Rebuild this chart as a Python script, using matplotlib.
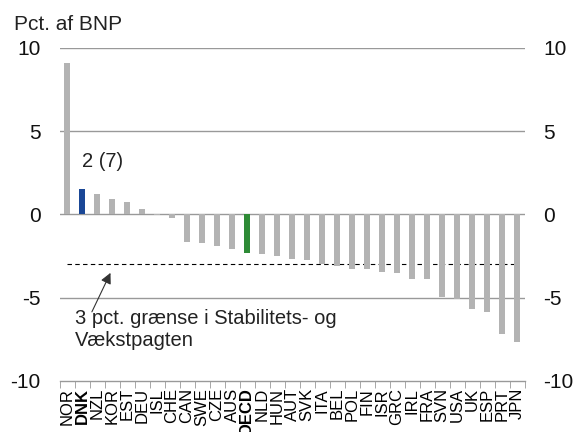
import matplotlib
matplotlib.use("Agg")
import matplotlib.pyplot as plt
import numpy as np

plt.rcParams['font.family'] = ['Liberation Sans', 'DejaVu Sans']

countries = ["NOR", "DNK", "NZL", "KOR", "EST", "DEU", "ISL", "CHE", "CAN", "SWE",
             "CZE", "AUS", "OECD", "NLD", "HUN", "AUT", "SVK", "ITA", "BEL", "POL",
             "FIN", "ISR", "GRC", "IRL", "FRA", "SVN", "USA", "UK", "ESP", "PRT", "JPN"]
values = [9.1, 1.5, 1.25, 0.9, 0.75, 0.35, -0.05, -0.2, -1.65, -1.7,
          -1.9, -2.1, -2.3, -2.35, -2.5, -2.65, -2.75, -3.0, -3.1, -3.25,
          -3.3, -3.45, -3.5, -3.85, -3.9, -4.95, -5.1, -5.65, -5.85, -7.15, -7.65]
highlight = {"DNK": "#1a4796", "OECD": "#2e8b36"}
bold_labels = ["DNK", "OECD"]
yticks = [-10, -5, 0, 5, 10]
limit = -3
dnk_label = "2 (7)"
annot_text = "3 pct. grænse i Stabilitets- og\nVækstpagten"

fig = plt.figure(figsize=(5.75, 4.32), dpi=100)
ax = fig.add_axes([59.5 / 575, 51 / 432, 465 / 575, 333.3 / 432])

x = np.arange(len(countries))
colors = [highlight.get(c, "#b3b3b3") for c in countries]
ax.bar(x, values, width=0.42, color=colors, zorder=3)

grid_c = "#999999"
for yv in [5, 0, -5, 10]:
    ax.axhline(yv, color=grid_c, lw=1.0, zorder=1)

ax.hlines(limit, 0, len(countries) - 1, colors="black", linestyles=(0, (4, 3)), lw=0.8, zorder=2)

ax.set_xlim(-0.5, len(countries) - 0.5)
ax.set_ylim(-10, 10)

for s in ["top", "left", "right"]:
    ax.spines[s].set_visible(False)
ax.spines["bottom"].set_color(grid_c)
ax.spines["bottom"].set_linewidth(1.0)

ax.set_xticks(x)
ax.set_xticklabels(countries, rotation=90, fontsize=12)
for lbl in ax.get_xticklabels():
    if lbl.get_text() in bold_labels:
        lbl.set_fontweight("bold")
ax.set_xticks(np.arange(-0.5, len(countries), 1.0), minor=True)
ax.tick_params(axis="x", which="major", length=0, pad=5)
ax.tick_params(axis="x", which="minor", length=5, color=grid_c, direction="out")

ax.set_yticks(yticks)
ax.set_yticklabels([str(v) for v in yticks], fontsize=15)
ax.tick_params(axis="y", length=0, labelright=True, labelleft=True)
ax.yaxis.set_tick_params(which="major", pad=13.5)
for lbl in ax.get_yticklabels():
    lbl.set_color("#111111")

ax.text(1.0, 3.2, dnk_label, fontsize=14.5, va="center", ha="left", color="#222222")

ax.annotate("", xy=(2.98, -3.36), xytext=(1.58, -6.0),
            arrowprops=dict(arrowstyle="-|>", color="#333333", lw=0.8, mutation_scale=16))
ax.text(0.53, -6.92, annot_text, fontsize=14.5, va="center", ha="left",
        color="#222222", linespacing=1.2)

fig.text(14 / 575, 1 - 24 / 432, "Pct. af BNP", fontsize=15, va="center", ha="left", color="#222222")

fig.savefig("out.png", dpi=100)
